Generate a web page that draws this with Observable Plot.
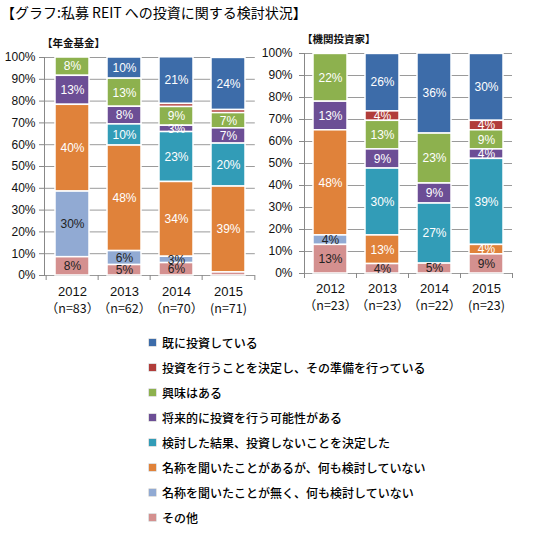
<!DOCTYPE html>
<html><head><meta charset="utf-8">
<script src="https://cdn.jsdelivr.net/npm/d3@7"></script>
<script src="https://cdn.jsdelivr.net/npm/@observablehq/plot@0.6"></script>
<style>
body{margin:0;background:#fff;}
#wrap{position:relative;width:536px;height:543px;font-family:"Liberation Sans","Noto Sans CJK JP",sans-serif;color:#111;}
#title{position:absolute;left:1px;top:3px;font-family:"Noto Sans CJK JP",sans-serif;font-size:14px;line-height:18px;white-space:nowrap;color:#000;}
.sub{position:absolute;font-family:"Noto Sans CJK JP",sans-serif;font-size:10.5px;font-weight:bold;line-height:14px;white-space:nowrap;z-index:2;}
#sub1{left:42px;top:36px;}
#sub2{left:302px;top:32px;}
#c1{position:absolute;left:0;top:30px;}
#c2{position:absolute;left:262px;top:30px;}
#legend{position:absolute;left:149px;top:330px;font-family:"Noto Sans CJK JP",sans-serif;font-size:12px;font-weight:500;color:#000;}
.row{height:25px;display:flex;align-items:center;white-space:nowrap;}
.sw{width:7px;height:7px;margin-right:6px;box-shadow:0 0 0 0.5px rgba(0,0,0,0.25);}
</style></head><body>
<div id="wrap">
  <div id="title">【グラフ:私募 REIT への投資に関する検討状況】</div>
  <div id="c1"></div>
  <div id="c2"></div>
  <div class="sub" id="sub1">【年金基金】</div>
  <div class="sub" id="sub2">【機関投資家】</div>
  <div id="legend"></div>
</div>
<script>
// legend order (top to bottom); stacking order is the reverse
const categories = [
  "既に投資している",
  "投資を行うことを決定し、その準備を行っている",
  "興味はある",
  "将来的に投資を行う可能性がある",
  "検討した結果、投資しないことを決定した",
  "名称を聞いたことがあるが、何も検討していない",
  "名称を聞いたことが無く、何も検討していない",
  "その他"
];
const colors = ["#3d6ca9", "#b13d3a", "#8db14e", "#6c4e95", "#329cb7", "#e0823a", "#91aad3", "#d4908f"];
const darkLabelCats = ["名称を聞いたことが無く、何も検討していない", "その他"];
const years = ["2012", "2013", "2014", "2015"];

// 年金基金 (%)
const pensionN = ["（n=83）", "（n=62）", "（n=70）", "(n=71)"];
const pensionValues = [
  [0, 9.7, 21.4, 23.9],
  [0, 0, 1.4, 1.4],
  [8.4, 12.9, 8.6, 7.0],
  [13.3, 8.1, 2.9, 7.0],
  [0, 9.7, 22.9, 19.7],
  [39.8, 48.4, 34.3, 39.4],
  [30.1, 6.4, 2.9, 0],
  [8.4, 4.8, 5.7, 1.4]
];

// 機関投資家 (%)
const instN = ["（n=23）", "（n=23）", "（n=22）", "(n=23)"];
const instValues = [
  [0, 26.1, 36.4, 30.4],
  [0, 4.3, 0, 4.3],
  [21.7, 13.0, 22.7, 8.7],
  [13.0, 8.7, 9.1, 4.3],
  [0, 30.4, 27.3, 39.1],
  [47.8, 13.0, 0, 4.3],
  [4.3, 0, 0, 0],
  [13.0, 4.3, 4.5, 8.7]
];

const yTicks = [0, 10, 20, 30, 40, 50, 60, 70, 80, 90, 100];

function chart(values, nLabels, o) {
  const data = [];
  categories.forEach((c, i) => years.forEach((y, j) => {
    if (values[i][j] > 0) data.push({cat: c, year: y, v: values[i][j]});
  }));
  const order = categories.slice().reverse();
  const stack = (opts) => Plot.stackY({x: "year", y: "v", z: "cat", order, ...opts});
  const step = (o.width - o.marginLeft - o.marginRight) / years.length;
  const lbl = (d) => d.v >= 2 ? Math.round(d.v) + "%" : "";
  return Plot.plot({
    width: o.width, height: o.height,
    marginLeft: o.marginLeft, marginRight: o.marginRight,
    marginTop: o.marginTop, marginBottom: o.marginBottom,
    x: {domain: years, paddingInner: 0.355, paddingOuter: 0.1775, label: null},
    y: {domain: [0, 100], label: null},
    color: {domain: categories, range: colors},
    style: {fontFamily: "Liberation Sans, Noto Sans CJK JP, sans-serif", fontSize: "12px", color: "#111", background: "transparent"},
    marks: [
      Plot.gridY(yTicks, {stroke: "#9a9a9a", strokeOpacity: 1}),
      Plot.axisY(yTicks, {tickFormat: d => d + "%", tickSize: 5, tickPadding: o.tickPadding, stroke: "#888", fontSize: 12, label: null}),
      Plot.frame({anchor: "left", stroke: "#888"}),
      Plot.ruleX(years, {x: d => d, dx: -step / 2, y1: 0, y2: 0, insetBottom: -5, stroke: "#888"}),
      Plot.ruleX(years.slice(-1), {x: d => d, dx: step / 2, y1: 0, y2: 0, insetBottom: -5, stroke: "#888"}),
      Plot.rectY(data, stack({fill: "cat", stroke: "white", strokeWidth: 1.5})),
      Plot.text(data, stack({text: d => darkLabelCats.includes(d.cat) ? "" : lbl(d), fill: "white", fontSize: 12})),
      Plot.text(data, stack({text: d => darkLabelCats.includes(d.cat) ? lbl(d) : "", fill: "#222", fontSize: 12})),
      Plot.axisX({tickSize: 0, tickPadding: o.yearPad, fontSize: 13, label: null}),
      Plot.axisX({tickSize: 0, tickPadding: o.yearPad + 18, fontSize: 12.5, fontFamily: "Noto Sans CJK JP", label: null, tickFormat: d => nLabels[years.indexOf(d)]})
    ]
  });
}

document.getElementById("c1").append(chart(pensionValues, pensionN,
  {width: 262, height: 290, marginLeft: 44, marginRight: 7.2, marginTop: 27, marginBottom: 45, tickPadding: 4, yearPad: 11}));
document.getElementById("c2").append(chart(instValues, instN,
  {width: 274, height: 290, marginLeft: 42, marginRight: 24, marginTop: 23, marginBottom: 47, tickPadding: 7, yearPad: 10}));

const legend = document.getElementById("legend");
categories.forEach((c, i) => {
  const row = document.createElement("div");
  row.className = "row";
  const sw = document.createElement("div");
  sw.className = "sw";
  sw.style.background = colors[i];
  const t = document.createElement("span");
  t.textContent = c;
  row.append(sw, t);
  legend.append(row);
});
</script>
</body></html>
